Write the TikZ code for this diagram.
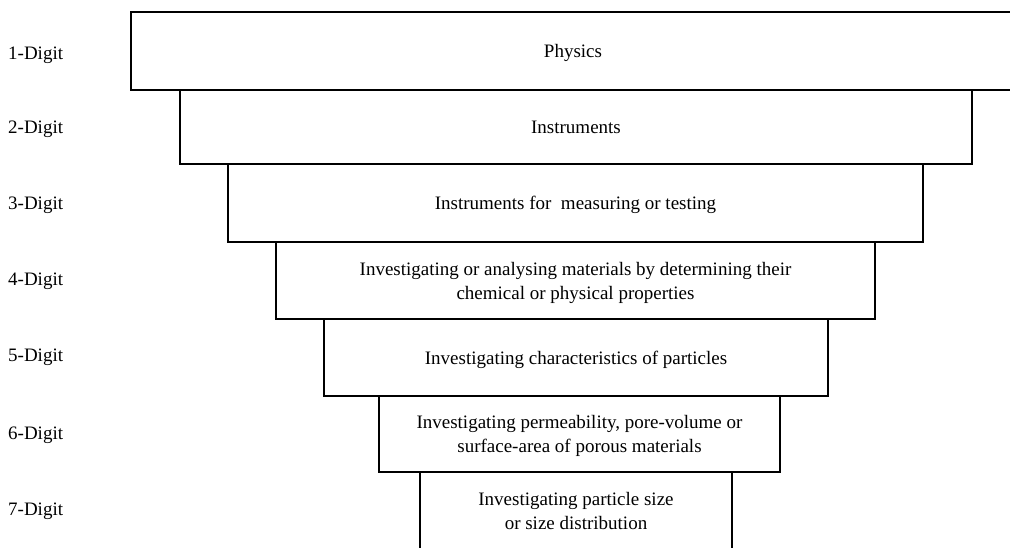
\documentclass[tikz,border=0pt]{standalone}
\usepackage{fontspec}
\setmainfont{Liberation Serif}
\begin{document}
\begin{tikzpicture}[x=1pt,y=-1pt,
	lvlbox/.style={draw,line width=1.5pt,inner sep=0pt,align=center,
		text depth=0pt,font=\fontsize{19}{24}\selectfont},
	digit/.style={anchor=west,inner sep=0pt,font=\fontsize{19}{19}\selectfont}]
	\useasboundingbox (0,0) rectangle (1010,547);
	\clip (0,0) rectangle (1010,547);
	% levels of the classification
	\node[lvlbox,minimum width=884pt,minimum height=78pt] (phys) at (573,51) {Physics};
	\node[lvlbox,minimum width=792pt,minimum height=74pt] (instr) at (576,127) {Instruments};
	\node[lvlbox,minimum width=695pt,minimum height=78pt] (meas) at (575.5,203)
		{Instruments for~ measuring or testing};
	\node[lvlbox,minimum width=599pt,minimum height=77pt] (matl) at (575.5,280.5)
		{Investigating or analysing materials by determining their\\chemical or physical properties};
	\node[lvlbox,minimum width=504pt,minimum height=77pt] (part) at (576,357.5)
		{Investigating characteristics of particles};
	\node[lvlbox,minimum width=401pt,minimum height=76pt] (pore) at (579.5,434)
		{Investigating permeability, pore-volume or\\surface-area of porous materials};
	\node[lvlbox,minimum width=312pt,minimum height=78pt] (size) at (576,511)
		{Investigating particle size\\or size distribution};
	% digit labels
	\node[digit] (d1) at (8,55) {1-Digit};
	\node[digit] (d2) at (8,129) {2-Digit};
	\node[digit] (d3) at (8,205) {3-Digit};
	\node[digit] (d4) at (8,281) {4-Digit};
	\node[digit] (d5) at (8,357) {5-Digit};
	\node[digit] (d6) at (8,435) {6-Digit};
	\node[digit] (d7) at (8,511) {7-Digit};
\end{tikzpicture}
\end{document}
